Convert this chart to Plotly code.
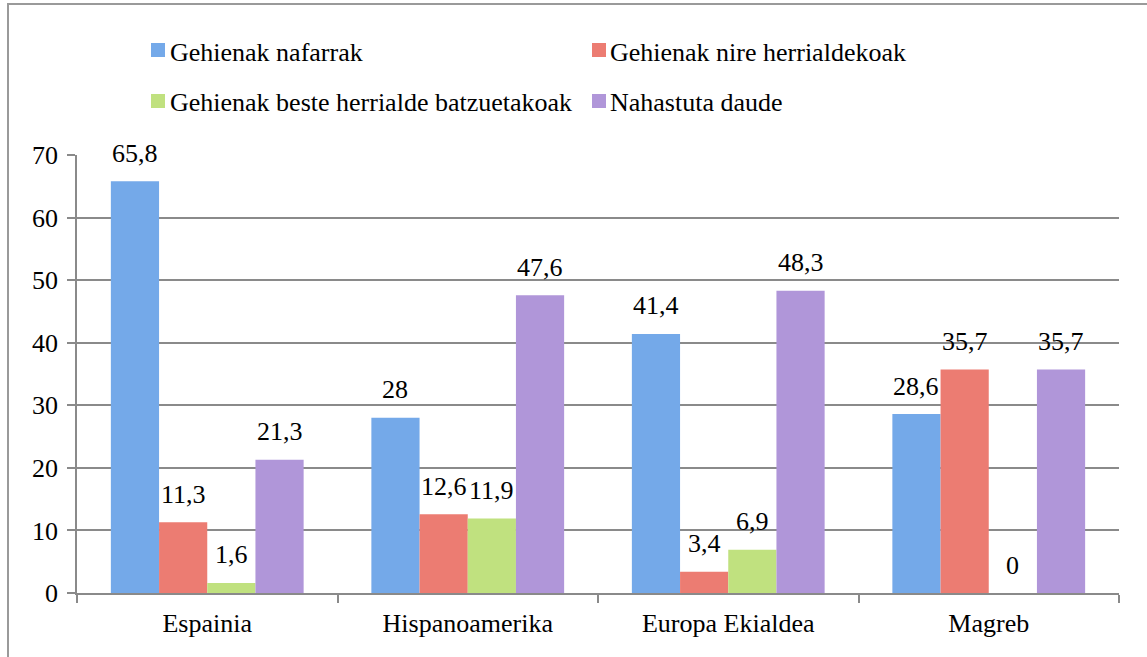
import plotly.graph_objects as go

categories = ["Espainia", "Hispanoamerika", "Europa Ekialdea", "Magreb"]
series_names = [
    "Gehienak nafarrak",
    "Gehienak nire herrialdekoak",
    "Gehienak beste herrialde batzuetakoak",
    "Nahastuta daude",
]
nafarrak = [65.8, 28, 41.4, 28.6]
nire_herrialdekoak = [11.3, 12.6, 3.4, 35.7]
beste_herrialde = [1.6, 11.9, 6.9, 0]
nahastuta = [21.3, 47.6, 48.3, 35.7]
series_values = [nafarrak, nire_herrialdekoak, beste_herrialde, nahastuta]
colors = ["#74a9e9", "#ec7c72", "#c0e17f", "#b096d9"]
y_ticks = [0, 10, 20, 30, 40, 50, 60, 70]

W, H = 1147, 657
L, R, T, B = 77, 28, 155, 64
PW, PH = W - L - R, H - T - B
FONT = "Times New Roman, Liberation Serif, serif"
FS = 26
GRID = "#8a8a8a"
BARGAP = 0.26


def px(x):
    return (x - L) / PW


def py(y):
    return (H - B - y) / PH


def fmt(v):
    return f"{v:g}".replace(".", ",")


fig = go.Figure()
for name, vals, col in zip(series_names, series_values, colors):
    fig.add_trace(go.Bar(name=name, x=categories, y=vals,
                         marker=dict(color=col, line=dict(width=0)),
                         showlegend=False, hoverinfo="skip"))

annotations = []
n = len(series_values)
gw = 1 - BARGAP
bw = gw / n
for k, vals in enumerate(series_values):
    off = -gw / 2 + bw * (k + 0.5)
    for i, v in enumerate(vals):
        annotations.append(dict(x=i + off, y=v, xref="x", yref="y", text=fmt(v),
                                showarrow=False, yanchor="middle", yshift=28,
                                font=dict(family=FONT, size=FS, color="black")))

# legend (manual, two columns)
legend_pos = [(151, 50, 168, 53), (592, 50, 608, 53), (151, 101, 168, 103), (592, 101, 608, 103)]
shapes = []
for (bx, by, tx, ty), name, col in zip(legend_pos, series_names, colors):
    shapes.append(dict(type="rect", xref="paper", yref="paper",
                       x0=px(bx), x1=px(bx + 14), y0=py(by + 7), y1=py(by - 7),
                       fillcolor=col, line=dict(width=0)))
    annotations.append(dict(x=px(tx), y=py(ty), xref="paper", yref="paper", text=name,
                            showarrow=False, xanchor="left", yanchor="middle",
                            font=dict(family=FONT, size=FS, color="black")))

# outer frame
shapes.append(dict(type="rect", xref="paper", yref="paper",
                   x0=px(8), x1=px(1300), y0=py(800), y1=py(4),
                   line=dict(color="#9a9a9a", width=2), fillcolor="rgba(0,0,0,0)", layer="below"))

fig.update_layout(
    width=W, height=H,
    margin=dict(l=L, r=R, t=T, b=B, pad=0),
    paper_bgcolor="white", plot_bgcolor="white",
    barmode="group", bargap=BARGAP, bargroupgap=0,
    showlegend=False,
    font=dict(family=FONT, size=FS, color="black"),
    annotations=annotations, shapes=shapes,
    xaxis=dict(type="category", showline=True, linecolor=GRID, linewidth=1.5,
               ticks="outside", tickson="boundaries", ticklen=8, tickcolor=GRID,
               tickwidth=1.5, showgrid=False, tickfont=dict(family=FONT, size=FS),
               ticklabelstandoff=6),
    yaxis=dict(range=[0, 70], tickvals=y_ticks, showline=True, linecolor=GRID,
               linewidth=1.5, ticks="outside", ticklen=8, tickcolor=GRID, tickwidth=1.5,
               showgrid=True, gridcolor=GRID, gridwidth=1.5, zeroline=False,
               tickfont=dict(family=FONT, size=FS), ticklabelstandoff=4),
)

fig.write_html("out.html", config={"displayModeBar": False},
               post_script="document.body.style.margin='0';document.body.style.overflow='hidden';")
